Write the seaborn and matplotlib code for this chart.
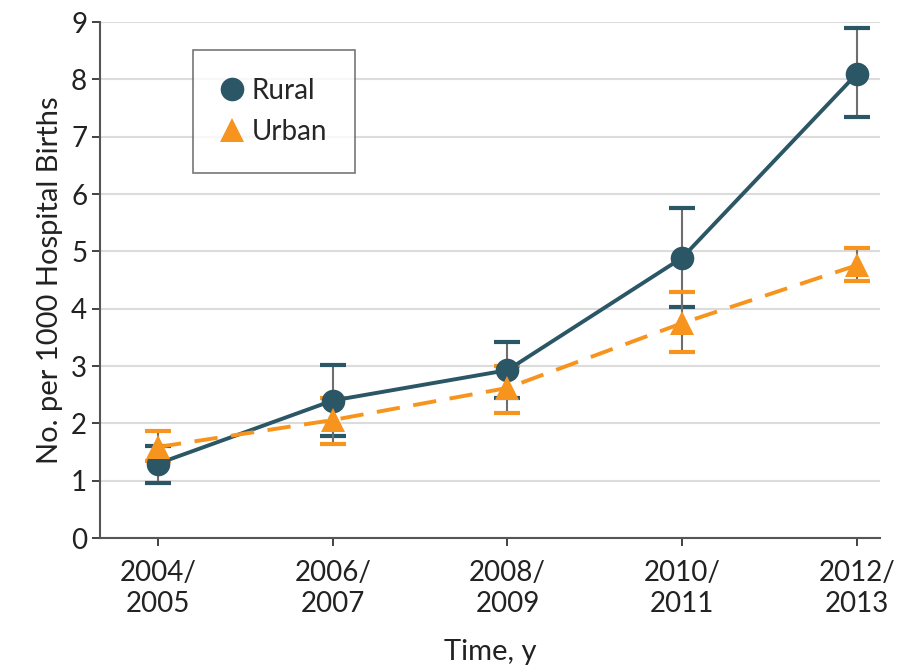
import numpy as np
import pandas as pd
import matplotlib
matplotlib.use("Agg")
import matplotlib.pyplot as plt
import seaborn as sns

# Datos
periodos = ["2004/\n2005", "2006/\n2007", "2008/\n2009", "2010/\n2011", "2012/\n2013"]
rural = [1.3, 2.4, 2.93, 4.89, 8.1]
rural_low = [0.96, 1.78, 2.44, 4.03, 7.35]
rural_high = [1.6, 3.02, 3.42, 5.76, 8.9]
urbano = [1.59, 2.06, 2.62, 3.75, 4.76]
urbano_low = [1.35, 1.64, 2.18, 3.25, 4.48]
urbano_high = [1.87, 2.45, 3.0, 4.29, 5.06]

color_rural = "#2b5666"
color_urbano = "#f7941d"

sns.set_theme(style="white")
plt.rcParams['font.family'] = ['Lato', 'DejaVu Sans']

df = pd.DataFrame({
    "x": list(range(len(periodos))) * 2,
    "valor": rural + urbano,
    "grupo": ["Rural"] * len(rural) + ["Urban"] * len(urbano),
})

fig = plt.figure(figsize=(9.04, 6.71), dpi=100)
ax = fig.add_axes([0.111, 0.198, 0.862, 0.769])

ax.grid(axis="y", color="#dcdcdc", linewidth=1.5, zorder=0)

# barras de error (línea gris, topes de color)
for valores, lo, hi, col in [(rural, rural_low, rural_high, color_rural),
                             (urbano, urbano_low, urbano_high, color_urbano)]:
    v = np.array(valores)
    err = [v - np.array(lo), np.array(hi) - v]
    _, caps, barras = ax.errorbar(range(len(v)), v, yerr=err, fmt="none",
                                  ecolor="#6e6e6e", elinewidth=1.5,
                                  capsize=9.5, capthick=3, zorder=2)
    for c in caps:
        c.set_color(col)
        c.set_markeredgecolor(col)

sns.lineplot(data=df, x="x", y="valor", hue="grupo", style="grupo",
             palette={"Rural": color_rural, "Urban": color_urbano},
             markers={"Rural": "o", "Urban": "^"},
             dashes={"Rural": "", "Urban": (6, 3.5)},
             markersize=17, markeredgewidth=0, linewidth=2.8, ax=ax, zorder=3)

ax.set_xlim(-0.33, 4.13)
ax.set_ylim(0, 9)
ax.set_yticks(range(0, 10))
ax.set_xticks(range(len(periodos)))
ax.set_xticklabels(periodos)
ax.tick_params(axis="both", labelsize=20, colors="#222222", length=6, width=1.2,
               direction="out", left=True, bottom=True)
ax.tick_params(axis="x", pad=10)
ax.set_xlabel("Time, y", fontsize=21, color="#222222", labelpad=16)
ax.set_ylabel("No. per 1000 Hospital Births", fontsize=21, color="#222222", labelpad=6)

for lado in ["top", "right"]:
    ax.spines[lado].set_visible(False)
for lado in ["left", "bottom"]:
    ax.spines[lado].set_color("#555555")
    ax.spines[lado].set_linewidth(1.5)

handles, labels = ax.get_legend_handles_labels()
leg = ax.legend(handles, labels, loc="upper left", bbox_to_anchor=(0.119, 0.946),
                borderaxespad=0, fontsize=20, frameon=True, fancybox=False,
                edgecolor="#555555", handlelength=0.8, handletextpad=0.3,
                borderpad=1.0, labelspacing=0.55)
leg.get_frame().set_linewidth(1.2)
for h in leg.legend_handles:
    h.set_linestyle("none")
    h.set_markersize(17)

fig.savefig("out.png", dpi=100)
